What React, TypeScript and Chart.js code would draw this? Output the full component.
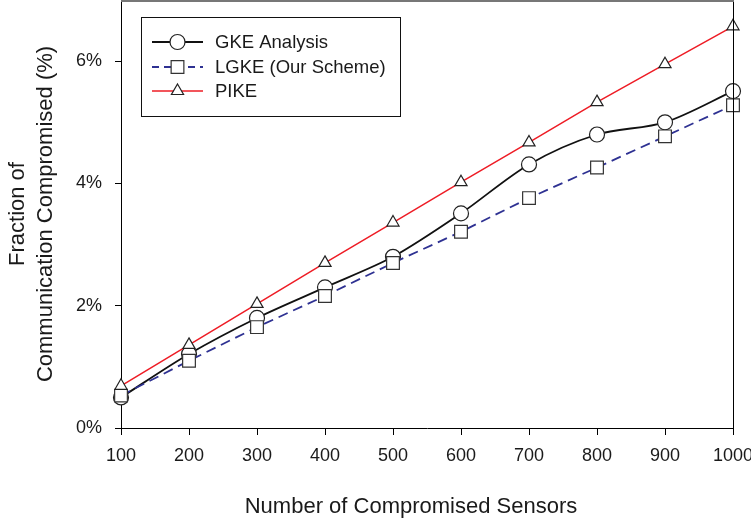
import React, { useEffect, useRef } from 'react';
import { Chart, registerables } from 'chart.js';

Chart.register(...registerables);

const SENSORS = [100, 200, 300, 400, 500, 600, 700, 800, 900, 1000];
const GKE = [0.5, 1.21, 1.8, 2.3, 2.8, 3.51, 4.31, 4.8, 5.0, 5.51];
const LGKE = [0.53, 1.1, 1.65, 2.16, 2.7, 3.21, 3.76, 4.26, 4.77, 5.28];
const PIKE = [0.69, 1.36, 2.03, 2.7, 3.36, 4.02, 4.67, 5.33, 5.95, 6.57];
const X_TICKS = [100, 200, 300, 400, 500, 600, 700, 800, 900, 1000];
const Y_TICKS = [0, 2, 4, 6];
const SERIES_NAMES = ['GKE Analysis', 'LGKE (Our Scheme)', 'PIKE'];
const X_TITLE = 'Number of Compromised Sensors';
const Y_TITLE = ['Fraction of', 'Communication Compromised (%)'];

const FONT = "'Liberation Sans', Arial, Helvetica, sans-serif";
const TEXT = '#1a1a1a';

type Style = { color: string; dash: number[]; width: number; point: string; radius: number; pborder: string };
const STYLES: Style[] = [
  { color: '#111111', dash: [], width: 1.8, point: 'circle', radius: 7.5, pborder: '#222' },
  { color: '#2e3192', dash: [10, 6], width: 1.8, point: 'rect', radius: 9, pborder: '#333' },
  { color: '#ee1c25', dash: [], width: 1.5, point: 'triangle', radius: 7, pborder: '#222' },
];

function drawMarker(ctx: CanvasRenderingContext2D, kind: string, x: number, y: number, r: number, border: string) {
  ctx.save();
  ctx.setLineDash([]);
  ctx.fillStyle = '#fff';
  ctx.strokeStyle = border;
  ctx.lineWidth = 1.2;
  ctx.beginPath();
  if (kind === 'circle') {
    ctx.arc(x, y, r, 0, Math.PI * 2);
  } else if (kind === 'rect') {
    const s = Math.SQRT1_2 * r;
    ctx.rect(x - s, y - s, 2 * s, 2 * s);
  } else {
    let rad = 0;
    ctx.moveTo(x + Math.sin(rad) * r, y - Math.cos(rad) * r);
    rad += (2 * Math.PI) / 3;
    ctx.lineTo(x + Math.sin(rad) * r, y - Math.cos(rad) * r);
    rad += (2 * Math.PI) / 3;
    ctx.lineTo(x + Math.sin(rad) * r, y - Math.cos(rad) * r);
    ctx.closePath();
  }
  ctx.fill();
  ctx.stroke();
  ctx.restore();
}

const framePlugin = {
  id: 'frameAndLegend',
  afterDraw(chart: any) {
    const { ctx, chartArea: a } = chart;
    ctx.save();
    // right frame line
    ctx.strokeStyle = '#000';
    ctx.lineWidth = 1;
    ctx.beginPath();
    ctx.moveTo(a.right + 0.5, a.top);
    ctx.lineTo(a.right + 0.5, a.bottom);
    ctx.stroke();
    // top frame line
    ctx.strokeStyle = '#777';
    ctx.lineWidth = 2;
    ctx.beginPath();
    ctx.moveTo(a.left, a.top + 1);
    ctx.lineTo(a.right + 1, a.top + 1);
    ctx.stroke();

    // x axis title (centred as in the reference, slightly left of the plot centre)
    ctx.fillStyle = TEXT;
    ctx.font = `22px ${FONT}`;
    ctx.textAlign = 'center';
    ctx.textBaseline = 'middle';
    ctx.fillText(X_TITLE, 411, 507);

    // legend box
    const bx = 141.5, by = 17.5, bw = 259, bh = 99;
    ctx.strokeStyle = '#111';
    ctx.lineWidth = 1;
    ctx.strokeRect(bx, by, bw, bh);
    const rows = [42, 67, 91];
    ctx.font = `18.5px ${FONT}`;
    ctx.textBaseline = 'middle';
    ctx.textAlign = 'left';
    SERIES_NAMES.forEach((name, i) => {
      const st = STYLES[i];
      const y = rows[i];
      ctx.save();
      ctx.strokeStyle = st.color;
      ctx.lineWidth = st.width;
      ctx.setLineDash(st.dash.length ? [7, 5] : []);
      ctx.beginPath();
      ctx.moveTo(152, y);
      ctx.lineTo(203, y);
      ctx.stroke();
      ctx.restore();
      drawMarker(ctx, st.point, 177.5, y, st.radius, st.pborder);
      ctx.fillStyle = TEXT;
      ctx.fillText(name, 215, y + 1);
    });
    ctx.restore();
  },
};

export default function App() {
  const ref = useRef<HTMLCanvasElement | null>(null);

  useEffect(() => {
    if (!ref.current) return;
    const series = [GKE, LGKE, PIKE];
    const datasets = series.map((vals, i) => {
      const st = STYLES[i];
      return {
        label: SERIES_NAMES[i],
        data: SENSORS.map((x, k) => ({ x, y: vals[k] })),
        borderColor: st.color,
        borderWidth: st.width,
        borderDash: st.dash,
        backgroundColor: '#fff',
        pointStyle: st.point,
        pointRadius: st.radius,
        pointBackgroundColor: '#fff',
        pointBorderColor: st.pborder,
        pointBorderWidth: 1.2,
        tension: i === 0 ? 0.3 : 0,
        fill: false,
        clip: false,
        order: 3 - i,
      };
    });

    const chart = new Chart(ref.current, {
      type: 'line',
      data: { datasets } as any,
      options: {
        animation: false,
        responsive: true,
        maintainAspectRatio: false,
        layout: { autoPadding: false, padding: { left: 0, right: 18, top: 0, bottom: 0 } },
        plugins: {
          legend: { display: false },
          tooltip: { enabled: false },
        },
        scales: {
          x: {
            type: 'linear',
            min: 100,
            max: 1000,
            afterBuildTicks: (s: any) => {
              s.ticks = X_TICKS.map((v) => ({ value: v }));
            },
            afterFit: (s: any) => {
              s.height = 97;
              s.paddingLeft = 0;
              s.paddingRight = 0;
            },
            grid: { drawOnChartArea: false, drawTicks: true, tickLength: 7, color: '#000', lineWidth: 1 },
            border: { display: true, color: '#000', width: 1 },
            ticks: {
              color: TEXT,
              font: { family: FONT, size: 18 },
              padding: 10,
              maxRotation: 0,
              autoSkip: false,
              callback: (v: any) => String(v),
            },
            title: { display: false },
          },
          y: {
            type: 'linear',
            min: 0,
            max: 7,
            afterBuildTicks: (s: any) => {
              s.ticks = Y_TICKS.map((v) => ({ value: v }));
            },
            afterFit: (s: any) => {
              s.width = 121;
              s.paddingTop = 0;
              s.paddingBottom = 0;
            },
            grid: { drawOnChartArea: false, drawTicks: true, tickLength: 6, color: '#000', lineWidth: 1 },
            border: { display: true, color: '#000', width: 1 },
            ticks: {
              color: TEXT,
              font: { family: FONT, size: 18, lineHeight: 0.1 },
              padding: 13,
              callback: (v: any) => `${v}%`,
            },
            title: {
              display: true,
              text: Y_TITLE,
              color: TEXT,
              font: { family: FONT, size: 22, lineHeight: 1.27 },
              padding: { top: 4, bottom: 0 },
            },
          },
        },
      } as any,
      plugins: [framePlugin],
    });
    return () => chart.destroy();
  }, []);

  return (
    <div style={{ position: 'absolute', left: 0, top: 0, width: 751, height: 525 }}>
      <canvas ref={ref} />
    </div>
  );
}
